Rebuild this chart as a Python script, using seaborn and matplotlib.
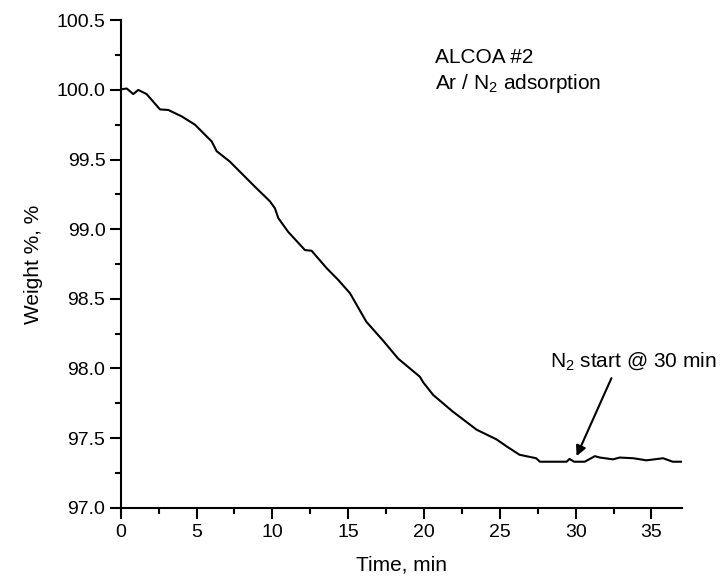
import numpy as np
import pandas as pd
import matplotlib
matplotlib.use("Agg")
import matplotlib.pyplot as plt
import seaborn as sns
from matplotlib.ticker import MultipleLocator

# weight-loss curve
time_min = [0.0, 0.07, 0.4, 0.83, 1.16, 1.71, 2.59, 3.14, 4.02, 4.9, 6.0, 6.33,
            7.2, 8.85, 9.84, 10.17, 10.39, 11.05, 12.15, 12.59, 13.58, 14.35,
            15.12, 16.2, 17.3, 18.3, 19.73, 19.95, 20.6, 21.9, 23.47, 24.79,
            25.45, 26.3, 27.4, 27.64, 29.4, 29.6, 29.9, 30.6, 31.27, 31.6,
            32.47, 32.9, 33.8, 34.67, 35.77, 36.4, 37.0]
weight_pct = [100.0, 100.005, 100.01, 99.97, 100.0, 99.97, 99.86, 99.856, 99.81,
              99.75, 99.63, 99.56, 99.485, 99.305, 99.2, 99.15, 99.08, 98.98,
              98.85, 98.845, 98.72, 98.635, 98.54, 98.335, 98.2, 98.07, 97.94,
              97.9, 97.81, 97.69, 97.56, 97.49, 97.44, 97.38, 97.355, 97.33,
              97.33, 97.35, 97.33, 97.33, 97.37, 97.36, 97.347, 97.36, 97.355,
              97.34, 97.355, 97.33, 97.33]

x_ticks = [0, 5, 10, 15, 20, 25, 30, 35]
y_ticks = [97.0, 97.5, 98.0, 98.5, 99.0, 99.5, 100.0, 100.5]


def main():
    sns.set_style("ticks")
    plt.rcParams["font.family"] = ["Liberation Sans", "DejaVu Sans"]
    plt.rcParams["mathtext.fontset"] = "custom"
    plt.rcParams["mathtext.rm"] = "Liberation Sans"
    plt.rcParams["mathtext.default"] = "regular"
    plt.rcParams["text.color"] = "black"
    plt.rcParams["axes.labelcolor"] = "black"
    plt.rcParams["xtick.color"] = "black"
    plt.rcParams["ytick.color"] = "black"

    df = pd.DataFrame({"time": time_min, "weight": weight_pct})

    fig = plt.figure(figsize=(7.24, 5.83), dpi=100)
    ax = fig.add_axes([0.1667, 0.1292, 0.775, 0.836])
    sns.lineplot(data=df, x="time", y="weight", color="black", linewidth=1.5, ax=ax)

    ax.set_xlim(0, 37)
    ax.set_ylim(97.0, 100.5)
    ax.set_xticks(x_ticks)
    ax.set_yticks(y_ticks)
    ax.set_yticklabels([f"{v:.1f}" for v in y_ticks])
    ax.xaxis.set_minor_locator(MultipleLocator(2.5))
    ax.yaxis.set_minor_locator(MultipleLocator(0.25))
    ax.tick_params(which="major", length=8, width=1.5, labelsize=14, direction="out", pad=4)
    ax.tick_params(axis="y", which="major", pad=3)
    ax.tick_params(which="minor", length=4, width=1.5, direction="out")
    for s in ["top", "right"]:
        ax.spines[s].set_visible(False)
    for s in ["left", "bottom"]:
        ax.spines[s].set_linewidth(1.5)
        ax.spines[s].set_color("black")

    ax.set_xlabel("Time, min", fontsize=15, labelpad=10)
    ax.set_ylabel("Weight %, %", fontsize=15, labelpad=10)

    ax.text(20.75, 100.13, "ALCOA #2\nAr / N$_2$ adsorption", fontsize=15,
            ha="left", va="center", linespacing=1.3)
    ax.text(33.8, 98.05, "N$_2$ start @ 30 min", fontsize=15, ha="center", va="center")
    ax.annotate("", xy=(30.06, 97.37), xytext=(32.36, 97.93),
                arrowprops=dict(arrowstyle="-|>", color="black", lw=1.5,
                                mutation_scale=15, shrinkA=0, shrinkB=0))

    fig.savefig("out.png", dpi=100)


if __name__ == "__main__":
    main()
